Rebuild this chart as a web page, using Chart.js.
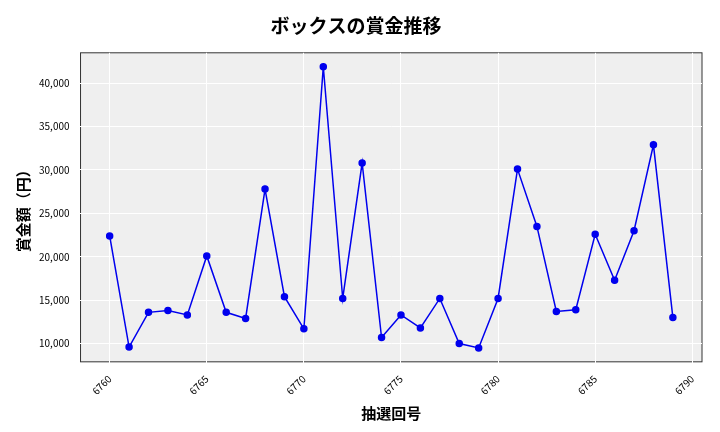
<!DOCTYPE html>
<html>
<head>
<meta charset="utf-8">
<script src="https://cdn.jsdelivr.net/npm/chart.js@4"></script>
<style>
  body { margin: 0; background: #fff; }
  #wrap { width: 720px; height: 432px; }
</style>
</head>
<body>
<div id="wrap"><canvas id="chart"></canvas></div>
<script>
// Draw numbers and prize values (yen)
const drawNumbers = [6760, 6761, 6762, 6763, 6764, 6765, 6766, 6767, 6768, 6769,
  6770, 6771, 6772, 6773, 6774, 6775, 6776, 6777, 6778, 6779,
  6780, 6781, 6782, 6783, 6784, 6785, 6786, 6787, 6788, 6789];
const prizes = [22400, 9600, 13600, 13800, 13300, 20100, 13600, 12900, 27800, 15400,
  11700, 41900, 15200, 30800, 10700, 13300, 11800, 15200, 10000, 9500,
  15200, 30100, 23500, 13700, 13900, 22600, 17300, 23000, 32900, 13000];
const xTicks = [6760, 6765, 6770, 6775, 6780, 6785, 6790];
const yTicks = [10000, 15000, 20000, 25000, 30000, 35000, 40000];

const font = "'Noto Sans CJK JP', 'Noto Sans', sans-serif";

// Grey plot background
const plotBg = {
  id: "plotBg",
  beforeDraw(chart) {
    const { ctx, chartArea: a } = chart;
    ctx.save();
    ctx.fillStyle = "#efefef";
    ctx.fillRect(a.left, a.top, a.right - a.left, a.bottom - a.top);
    ctx.strokeStyle = "#333";
    ctx.lineWidth = 1;
    ctx.strokeRect(a.left, a.top, a.right - a.left, a.bottom - a.top);
    ctx.restore();
  }
};

new Chart(document.getElementById("chart"), {
  type: "line",
  data: {
    datasets: [{
      data: drawNumbers.map((x, i) => ({ x: x, y: prizes[i] })),
      borderColor: "#0000ee",
      backgroundColor: "#0000ee",
      borderWidth: 1.5,
      pointRadius: 3,
      tension: 0
    }]
  },
  options: {
    responsive: true,
    maintainAspectRatio: false,
    animation: false,
    layout: { padding: { left: 10, right: 18, top: 10, bottom: 6 } },
    plugins: {
      legend: { display: false },
      title: {
        display: true,
        text: "ボックスの賞金推移",
        color: "#000",
        font: { family: font, size: 19, weight: "bold" },
        padding: { top: 4, bottom: 16 }
      }
    },
    scales: {
      x: {
        type: "linear",
        min: 6758.5,
        max: 6790.5,
        afterBuildTicks: s => { s.ticks = xTicks.map(v => ({ value: v })); },
        ticks: {
          color: "#000",
          maxRotation: 45,
          minRotation: 45,
          font: { family: font, size: 10 },
          callback: v => String(v)
        },
        grid: { color: "#fff", lineWidth: 1 },
        border: { display: false },
        title: {
          display: true,
          text: "抽選回号",
          color: "#000",
          font: { family: font, size: 15, weight: "bold" }
        }
      },
      y: {
        min: 7900,
        max: 43500,
        afterBuildTicks: s => { s.ticks = yTicks.map(v => ({ value: v })); },
        ticks: {
          color: "#000",
          font: { family: font, size: 10 },
          callback: v => v.toLocaleString("en-US")
        },
        grid: { color: "#fff", lineWidth: 1 },
        border: { display: false },
        title: {
          display: true,
          text: "賞金額（円）",
          color: "#000",
          font: { family: font, size: 15, weight: "bold" }
        }
      }
    }
  },
  plugins: [plotBg]
});
</script>
</body>
</html>
